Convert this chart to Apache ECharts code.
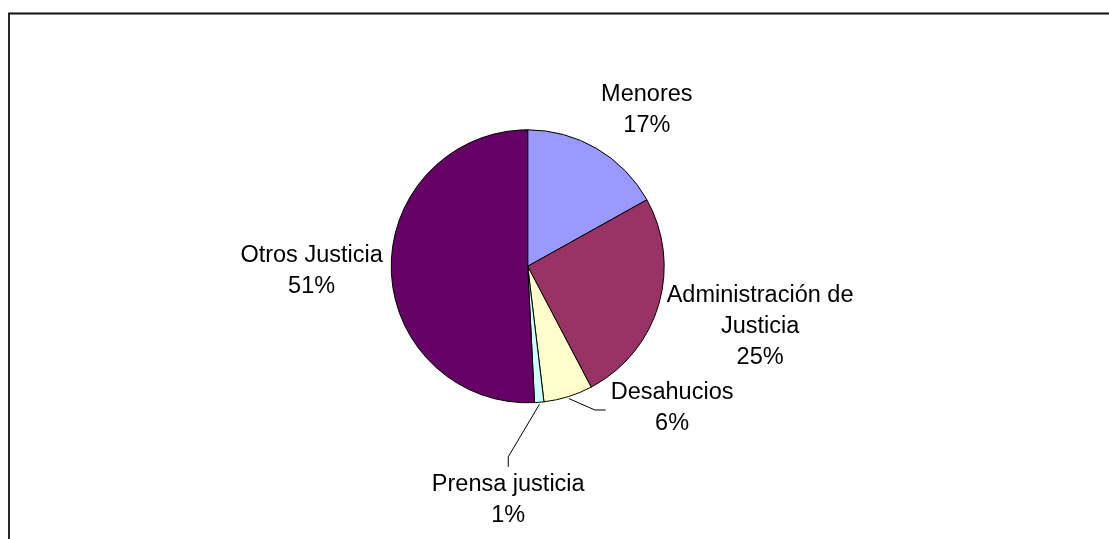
<!DOCTYPE html>
<html>
<head>
<meta charset="utf-8">
<script src="https://cdn.jsdelivr.net/npm/echarts@6/dist/echarts.min.js"></script>
<style>
html,body{margin:0;padding:0;background:#fff;}
#chart{width:1109px;height:539px;}
</style>
</head>
<body>
<div id="chart"></div>
<script>
// ---- data ----
const categories = ['Menores', 'Administración de Justicia', 'Desahucios', 'Prensa justicia', 'Otros Justicia'];
const shares = [16.9, 25.4, 5.8, 1.1, 50.8];
const sliceColors = ['#9999FF', '#993366', '#FFFFCC', '#CCFFFF', '#660066'];

// ---- layout settings ----
const CX = 527.7, CY = 266.3, R = 136.5;
const FONT_SIZE = 23.5;
const FONT = FONT_SIZE + 'px "Liberation Sans", Arial, sans-serif';
const GAP = 8.5;
// labels pulled away from small slices, with a leader line
const leaderLabels = {
  'Desahucios': { dAngle: -11.2, dist: 27, side: 'left' },
  'Prensa justicia': { dAngle: 10.4, dist: 65, side: 'top' }
};

const total = shares.reduce((a, b) => a + b, 0);
function midAngle(i) {
  let cum = 0;
  for (let k = 0; k < i; k++) cum += shares[k];
  return 360 * (cum + shares[i] / 2) / total;
}
function clamp(v) { return Math.max(-1, Math.min(1, v)); }

const measureCtx = document.createElement('canvas').getContext('2d');
measureCtx.font = FONT;
function wrap(text, maxW) {
  const words = text.split(' ');
  const lines = [];
  let cur = '';
  words.forEach(w => {
    const t = cur ? cur + ' ' + w : w;
    if (cur && measureCtx.measureText(t).width > maxW) { lines.push(cur); cur = w; }
    else cur = t;
  });
  if (cur) lines.push(cur);
  return lines.join('\n');
}

const chart = echarts.init(document.getElementById('chart'), null, { renderer: 'canvas' });

const seriesData = categories.map((name, i) => ({
  name: name,
  value: shares[i],
  itemStyle: { color: sliceColors[i] },
  labelLine: { show: !!leaderLabels[name] }
}));

chart.setOption({
  animation: false,
  backgroundColor: '#ffffff',
  graphic: [{
    type: 'rect',
    shape: { x: 9, y: 13.5, width: 1300, height: 700 },
    style: { fill: 'none', stroke: '#111', lineWidth: 1.8 },
    silent: true
  }],
  series: [{
    type: 'pie',
    center: [CX, CY],
    radius: R,
    startAngle: 90,
    clockwise: true,
    avoidLabelOverlap: false,
    itemStyle: { borderColor: '#000', borderWidth: 1 },
    emphasis: { disabled: true },
    label: {
      show: true,
      position: 'outside',
      color: '#000',
      fontFamily: '"Liberation Sans", Arial, sans-serif',
      fontSize: FONT_SIZE,
      lineHeight: 31,
      align: 'center',
      formatter: p => wrap(p.name, 205) + '\n' + Math.round(p.percent) + '%'
    },
    labelLine: { show: false, lineStyle: { color: '#000', width: 1 } },
    labelLayout: function (p) {
      const i = p.dataIndex;
      const name = categories[i];
      const w = p.labelRect.width, h = p.labelRect.height;
      const th = midAngle(i) * Math.PI / 180;
      const ux = Math.sin(th), uy = -Math.cos(th);
      const lead = leaderLabels[name];
      if (lead) {
        const ta = (midAngle(i) + lead.dAngle) * Math.PI / 180;
        const ax = CX + (R + lead.dist) * Math.sin(ta);
        const ay = CY - (R + lead.dist) * Math.cos(ta);
        const sx = CX + (R + 2) * ux, sy = CY + (R + 2) * uy;
        if (lead.side === 'left') {
          return {
            x: ax + 5 + w / 2, y: ay - 1.5, align: 'center', verticalAlign: 'middle',
            labelLinePoints: [[sx, sy], [ax - 10.7, ay], [ax, ay]]
          };
        }
        return {
          x: ax, y: ay + 2.3 + h / 2, align: 'center', verticalAlign: 'middle',
          labelLinePoints: [[sx, sy], [ax, ay - 10], [ax, ay]]
        };
      }
      const px = CX + (R + GAP) * ux, py = CY + (R + GAP) * uy;
      return {
        x: px + clamp(ux * 2) * w / 2,
        y: py + clamp(uy * 1.4) * h / 2,
        align: 'center', verticalAlign: 'middle'
      };
    },
    data: seriesData
  }]
});
</script>
</body>
</html>
